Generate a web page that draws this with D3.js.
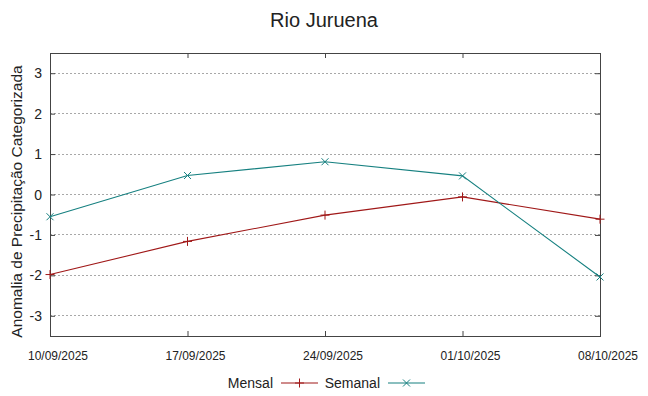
<!DOCTYPE html>
<html>
<head>
<meta charset="utf-8">
<script src="https://cdn.jsdelivr.net/npm/d3@7"></script>
<style>
  body { margin: 0; background: #fff; }
  text { font-family: "Liberation Sans", Arial, sans-serif; fill: #222; }
</style>
</head>
<body>
<svg width="648" height="396"></svg>
<script>
// data
let dates = ["10/09/2025", "17/09/2025", "24/09/2025", "01/10/2025", "08/10/2025"];
let mensal = [-1.98, -1.16, -0.51, -0.06, -0.61];
let semanal = [-0.55, 0.47, 0.81, 0.46, -2.04];
let yTicks = [-3, -2, -1, 0, 1, 2, 3];

let svg = d3.select("svg");
let pLeft = 50, pRight = 600, pTop = 53, pBottom = 336;

let parse = d3.timeParse("%d/%m/%Y");
let x = d3.scaleTime()
  .domain([parse(dates[0]), parse(dates[dates.length - 1])])
  .range([pLeft, pRight]);
let y = d3.scaleLinear()
  .domain([-3.5, 3.5])
  .range([pBottom, pTop]);

// grid
svg.append("g")
  .selectAll("line")
  .data(yTicks)
  .join("line")
    .attr("x1", pLeft).attr("x2", pRight)
    .attr("y1", d => y(d)).attr("y2", d => y(d))
    .attr("stroke", "#a8a8a8")
    .attr("stroke-dasharray", "2,2")
    .attr("shape-rendering", "crispEdges");

// axes, ticks pointing inward on all four sides
let tickDates = dates.map(parse);
let axB = svg.append("g").attr("transform", "translate(0," + pBottom + ")")
  .call(d3.axisTop(x).tickValues(tickDates).tickSize(5).tickFormat(""));
let axT = svg.append("g").attr("transform", "translate(0," + pTop + ")")
  .call(d3.axisBottom(x).tickValues(tickDates).tickSize(5).tickFormat(""));
let axL = svg.append("g").attr("transform", "translate(" + pLeft + ",0)")
  .call(d3.axisRight(y).tickValues(yTicks).tickSize(5).tickFormat(""));
let axR = svg.append("g").attr("transform", "translate(" + pRight + ",0)")
  .call(d3.axisLeft(y).tickValues(yTicks).tickSize(5).tickFormat(""));
[axB, axT, axL, axR].forEach(a => {
  a.select(".domain").remove();
  a.selectAll("line").attr("stroke", "#444");
});

// y tick labels
svg.append("g")
  .selectAll("text")
  .data(yTicks)
  .join("text")
    .attr("x", 42)
    .attr("y", d => y(d) + 5)
    .attr("text-anchor", "end")
    .attr("font-size", 14)
    .text(d => d);

// x tick labels (sit a little right of their ticks, as in the original)
svg.append("g")
  .selectAll("text")
  .data(dates)
  .join("text")
    .attr("text-anchor", "middle")
    .attr("font-size", 12)
    .attr("transform", d => "translate(" + (x(parse(d)) + 8) + ",360) scale(1,1.1)")
    .text(d => d);

// frame
svg.append("rect")
  .attr("x", pLeft).attr("y", pTop)
  .attr("width", pRight - pLeft).attr("height", pBottom - pTop)
  .attr("fill", "none")
  .attr("stroke", "#444")
  .attr("shape-rendering", "crispEdges");

// title + y label
svg.append("text")
  .attr("x", 324).attr("y", 27)
  .attr("text-anchor", "middle")
  .attr("font-size", 20)
  .text("Rio Juruena");

svg.append("text")
  .attr("transform", "translate(22,201.5) rotate(-90)")
  .attr("text-anchor", "middle")
  .attr("font-size", 15.5)
  .text("Anomalia de Precipitação Categorizada");

// series
let series = [
  { name: "Mensal", values: mensal, color: "#a01818", mark: "plus" },
  { name: "Semanal", values: semanal, color: "#168080", mark: "cross" }
];

let line = d3.line()
  .x((d, i) => x(tickDates[i]))
  .y(d => y(d));

function marker(g, kind, cx, cy, color) {
  let s = kind == "plus" ? 4.5 : 3.5;
  if (kind == "plus") {
    g.append("path").attr("d", "M" + (cx - s) + "," + cy + "h" + 2 * s + "M" + cx + "," + (cy - s) + "v" + 2 * s);
  } else {
    g.append("path").attr("d", "M" + (cx - s) + "," + (cy - s) + "l" + 2 * s + "," + 2 * s + "M" + (cx - s) + "," + (cy + s) + "l" + 2 * s + "," + (-2 * s));
  }
  g.selectAll("path").attr("stroke", color).attr("fill", "none").attr("stroke-width", 1);
}

series.forEach(s => {
  svg.append("path")
    .datum(s.values)
    .attr("fill", "none")
    .attr("stroke", s.color)
    .attr("stroke-width", 1.1)
    .attr("d", line);
  s.values.forEach((v, i) => {
    marker(svg.append("g"), s.mark, x(tickDates[i]), y(v), s.color);
  });
});

// legend
let legendX = [273, 380];
series.forEach((s, i) => {
  let lg = svg.append("g");
  lg.append("text")
    .attr("x", legendX[i]).attr("y", 388)
    .attr("text-anchor", "end")
    .attr("font-size", 14)
    .text(s.name);
  let x0 = legendX[i] + 8, x1 = x0 + 37;
  lg.append("line")
    .attr("x1", x0).attr("x2", x1)
    .attr("y1", 383).attr("y2", 383)
    .attr("stroke", s.color).attr("stroke-width", 1.1);
  marker(lg.append("g"), s.mark, (x0 + x1) / 2, 383, s.color);
});
</script>
</body>
</html>
